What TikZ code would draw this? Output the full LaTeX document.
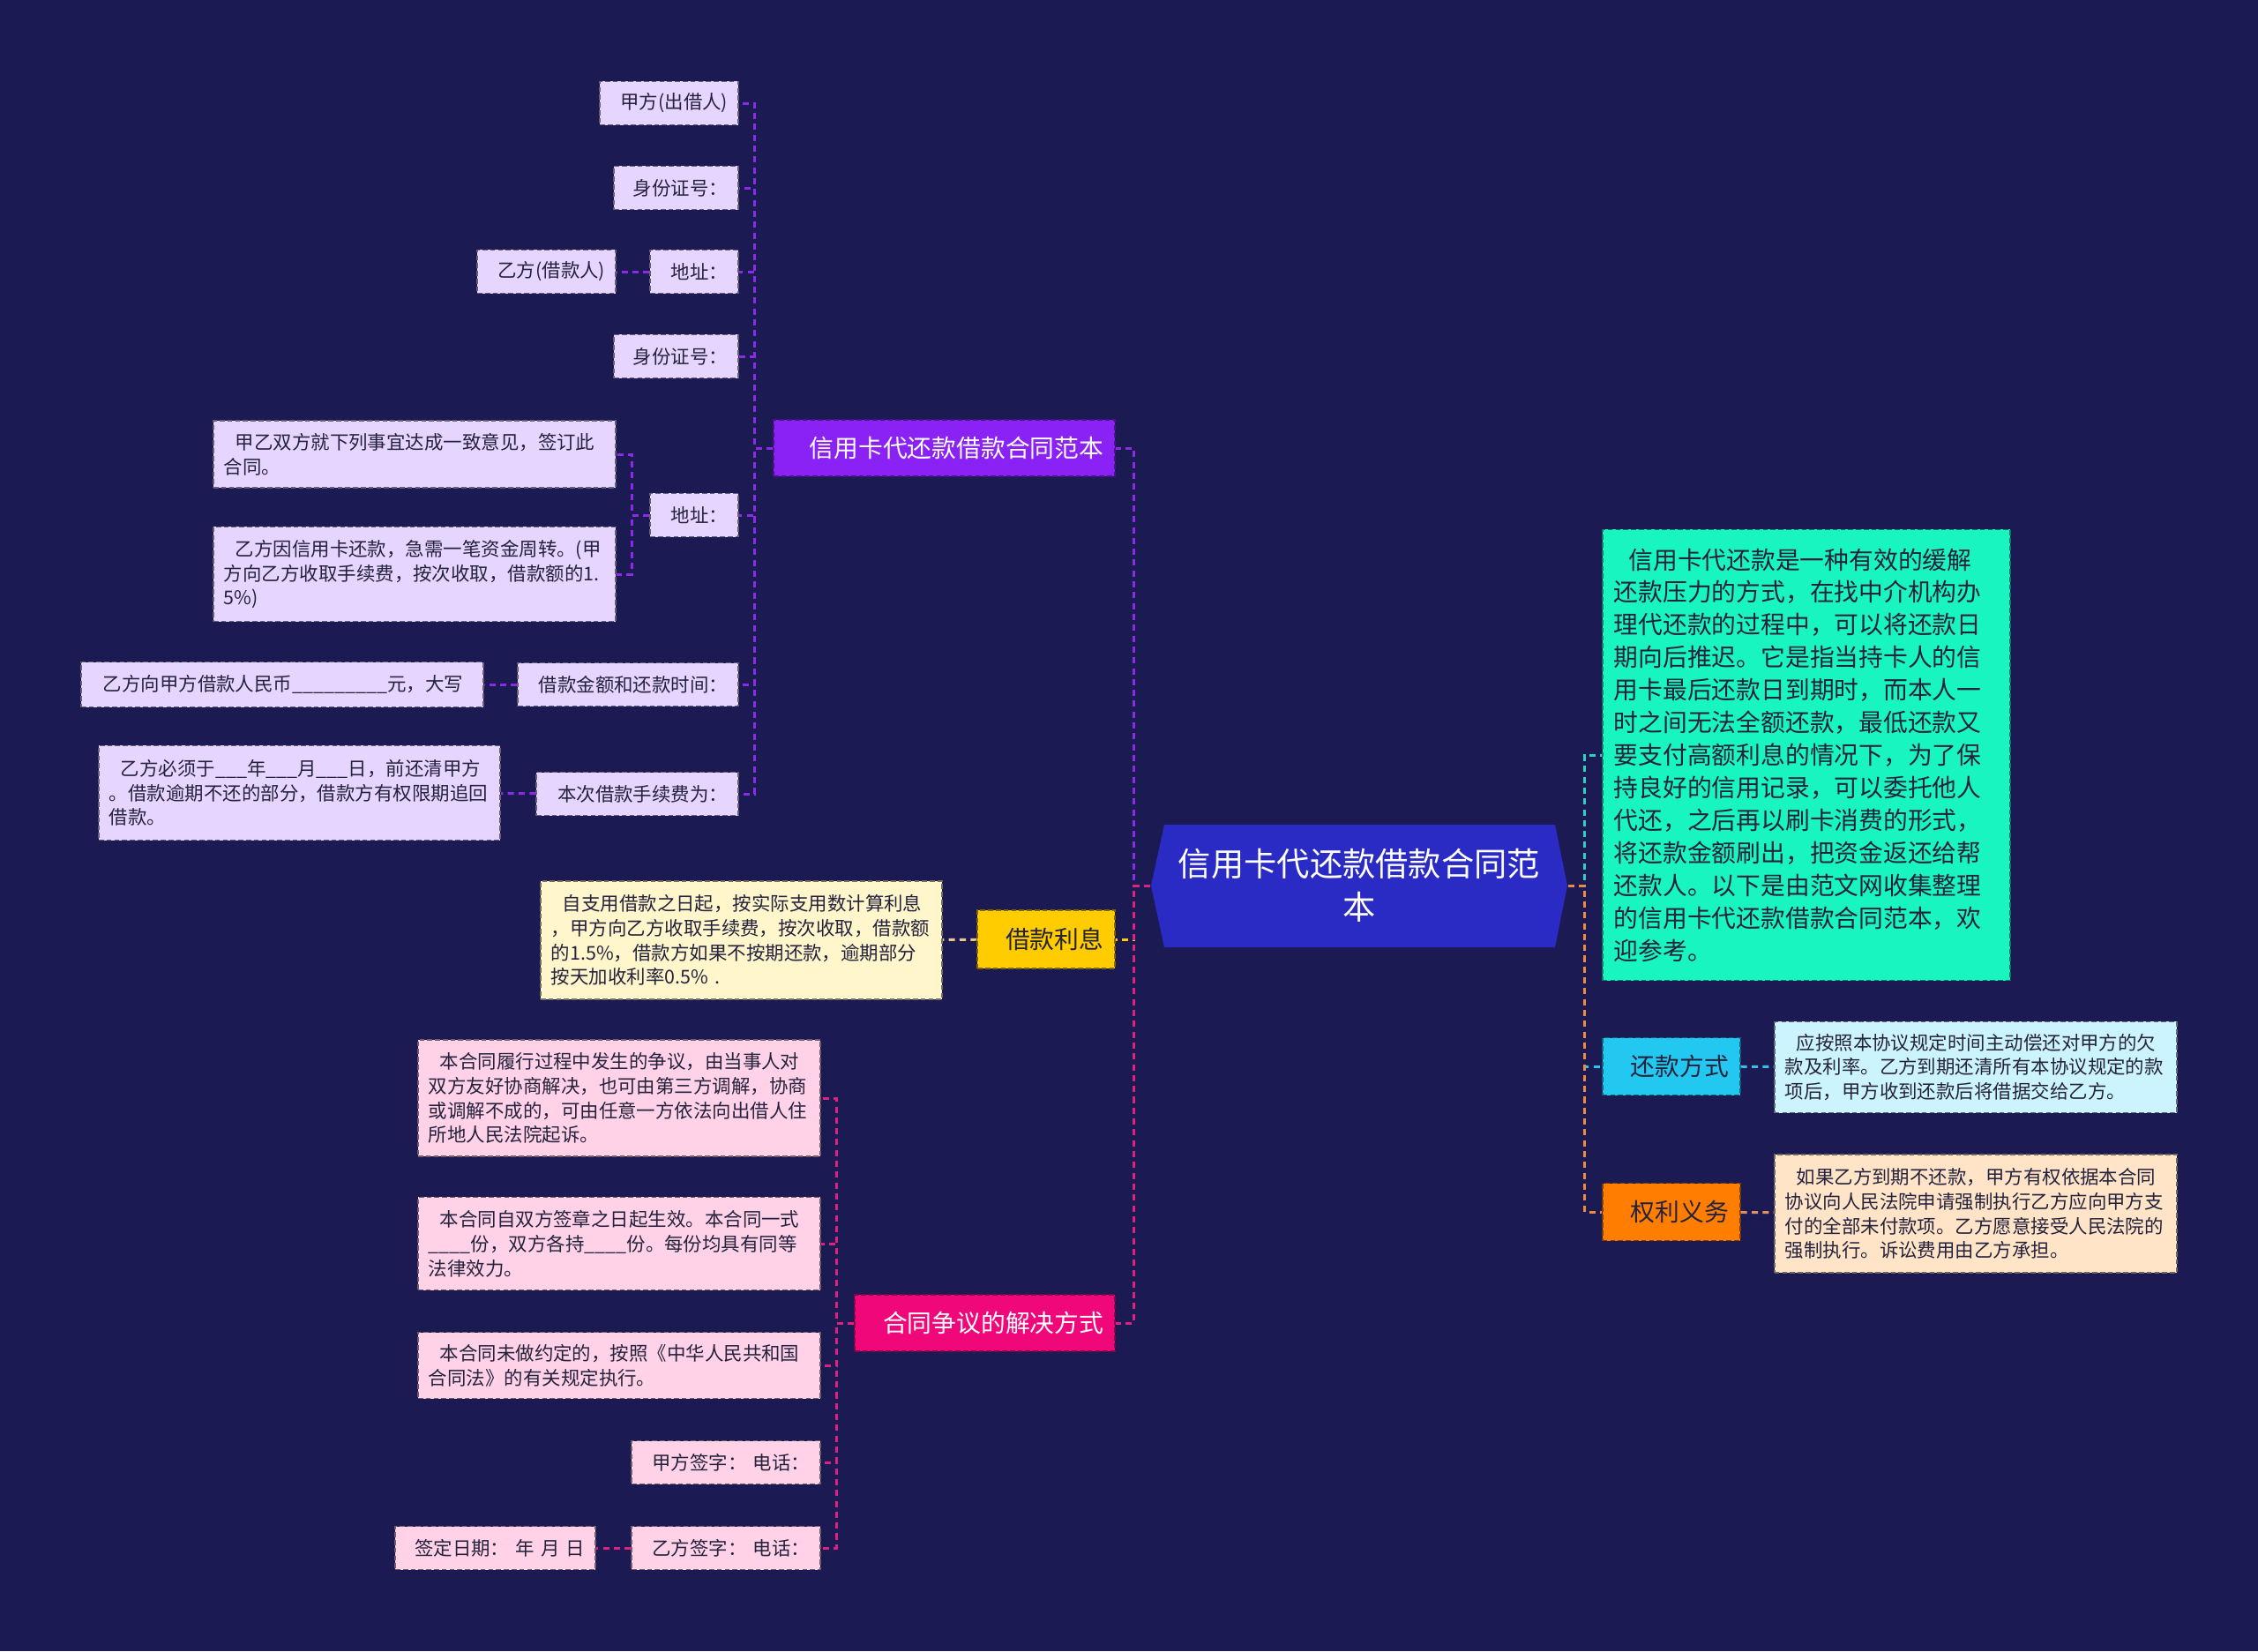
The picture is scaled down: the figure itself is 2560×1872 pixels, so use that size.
\documentclass[tikz,border=0pt]{standalone}
\usepackage{fontspec}
\setmainfont{Noto Sans CJK SC}

\definecolor{bg}{HTML}{1B1A52}
\definecolor{ink}{HTML}{24223C}
\definecolor{rootblue}{HTML}{2A2AC4}
\definecolor{purp}{HTML}{8A22F5}
\definecolor{purpline}{HTML}{8B2BE8}
\definecolor{lav}{HTML}{E6D5FF}
\definecolor{gold}{HTML}{FFCC00}
\definecolor{goldlight}{HTML}{FFF6CC}
\definecolor{goldline}{HTML}{E8C88A}
\definecolor{hot}{HTML}{F0087A}
\definecolor{hotline}{HTML}{E0207E}
\definecolor{pinklight}{HTML}{FFD2E8}
\definecolor{teal}{HTML}{19F5C1}
\definecolor{tealline}{HTML}{2AD2C2}
\definecolor{sky}{HTML}{22C8F0}
\definecolor{skylight}{HTML}{CCF4FF}
\definecolor{skyline}{HTML}{3CBCEC}
\definecolor{orng}{HTML}{FF7D00}
\definecolor{orngline}{HTML}{F08A3C}
\definecolor{peach}{HTML}{FFE4C8}
\definecolor{peachline}{HTML}{E0925E}

\begin{document}
\begin{tikzpicture}[x=0.01cm,y=-0.01cm,
    box/.style={rectangle,draw,dash pattern=on 1.6pt off 0.9pt,line width=0.45pt,inner xsep=0.12cm,inner ysep=0pt},
    small/.style={box,font=\fontsize{6.1pt}{7.9pt}\selectfont,text=ink},
    mid/.style={box,inner xsep=0.13cm,font=\fontsize{7.9pt}{10.5pt}\selectfont,align=right},
    lavbox/.style={small,fill=lav,draw=lav!45!black,align=right,minimum height=0.49cm,anchor=east},
    lavtext/.style={small,fill=lav,draw=lav!45!black,align=left,text width=4.32cm,anchor=east},
    pinkbox/.style={small,fill=pinklight,draw=pinklight!45!black,align=right,minimum height=0.49cm,anchor=east},
    pinktext/.style={small,fill=pinklight,draw=pinklight!45!black,align=left,text width=4.32cm,anchor=east},
    link/.style={dash pattern=on 2pt off 1.5pt,line width=0.85pt},
    rootnode/.style={minimum width=4.72cm,minimum height=1.39cm,inner sep=0pt,align=center,text=white,font=\fontsize{10.6pt}{13.9pt}\selectfont}]

    \fill[bg] (0,0) rectangle (2560,1872);
    \useasboundingbox (0,0) rectangle (2560,1872);

    % central topic
    \fill[rootblue] (1320,935) -- (1763,935) -- (1777,1004) -- (1763,1074) -- (1320,1074) -- (1305,1004) -- cycle;
    \node[rootnode] (root) at (1541,1004) {信用卡代还款借款合同范\\本};

    % left branches
    \node[mid,fill=purp,draw=purp!55!black,text=white,text width=3.61cm,minimum height=0.64cm,anchor=east] (contract) at (1265,508) {信用卡代还款借款合同范本};
    \node[mid,fill=gold,draw=gold!50!black,text=ink,text width=1.30cm,minimum height=0.66cm,anchor=east] (interest) at (1265,1065) {借款利息};
    \node[mid,fill=hot,draw=hot!55!black,text=white,text width=2.69cm,minimum height=0.64cm,anchor=east] (dispute) at (1265,1500) {合同争议的解决方式};

    % parties
    \node[lavbox,text width=1.33cm] (lender) at (838,117) {甲方(出借人)};
    \node[lavbox,text width=1.17cm] (lenderid) at (838,213) {身份证号：};
    \node[lavbox,text width=0.76cm] (lenderaddr) at (838,308) {地址：};
    \node[lavbox,text width=1.33cm] (borrower) at (699,308) {乙方(借款人)};
    \node[lavbox,text width=1.17cm] (borrowerid) at (838,404) {身份证号：};
    \node[lavbox,text width=0.76cm] (borroweraddr) at (838,584) {地址：};
    \node[lavtext,minimum height=0.76cm] (agree) at (699,515) {\hspace*{0.6em}甲乙双方就下列事宜达成一致意见，签订此\\合同。};
    \node[lavtext,minimum height=1.07cm] (reason) at (699,651) {\hspace*{0.6em}乙方因信用卡还款，急需一笔资金周转。(甲\\方向乙方收取手续费，按次收取，借款额的1.\\5\%)};
    \node[lavbox,text width=2.26cm] (amount) at (838,776) {借款金额和还款时间：};
    \node[lavtext,minimum height=0.51cm] (amounttext) at (549,776) {\hspace*{0.6em}乙方向甲方借款人民币\_\_\_\_\_\_\_\_\_元，大写};
    \node[lavbox,text width=2.05cm] (fee) at (838,900) {本次借款手续费为：};
    \node[lavtext,text width=4.31cm,minimum height=1.07cm] (feetext) at (568,899) {\hspace*{0.6em}乙方必须于\_\_\_年\_\_\_月\_\_\_日，前还清甲方\\。借款逾期不还的部分，借款方有权限期追回\\借款。};

    % interest
    \node[small,fill=goldlight,draw=goldlight!45!black,align=left,text width=4.31cm,minimum height=1.34cm,anchor=east] (interesttext) at (1069,1066) {\hspace*{0.6em}自支用借款之日起，按实际支用数计算利息\\，甲方向乙方收取手续费，按次收取，借款额\\的1.5\%，借款方如果不按期还款，逾期部分\\按天加收利率0.5\% .};

    % disputes
    \node[pinktext,minimum height=1.32cm] (court) at (931,1245) {\hspace*{0.6em}本合同履行过程中发生的争议，由当事人对\\双方友好协商解决，也可由第三方调解，协商\\或调解不成的，可由任意一方依法向出借人住\\所地人民法院起诉。};
    \node[pinktext,minimum height=1.05cm] (effect) at (931,1410) {\hspace*{0.6em}本合同自双方签章之日起生效。本合同一式\\\_\_\_\_份，双方各持\_\_\_\_份。每份均具有同等\\法律效力。};
    \node[pinktext,minimum height=0.75cm] (law) at (931,1548) {\hspace*{0.6em}本合同未做约定的，按照《中华人民共和国\\合同法》的有关规定执行。};
    \node[pinkbox,text width=1.90cm] (signa) at (931,1658) {甲方签字： 电话：};
    \node[pinkbox,text width=1.90cm] (signb) at (931,1755) {乙方签字： 电话：};
    \node[pinkbox,text width=2.03cm] (signdate) at (676,1755) {签定日期： 年 月 日};

    % right branches
    \node[mid,fill=teal,draw=teal!50!black,text=ink,align=left,inner ysep=0pt,text width=4.36cm,minimum height=5.11cm,anchor=west] (intro) at (1816,856) {\hspace*{0.6em}信用卡代还款是一种有效的缓解\\还款压力的方式，在找中介机构办\\理代还款的过程中，可以将还款日\\期向后推迟。它是指当持卡人的信\\用卡最后还款日到期时，而本人一\\时之间无法全额还款，最低还款又\\要支付高额利息的情况下，为了保\\持良好的信用记录，可以委托他人\\代还，之后再以刷卡消费的形式，\\将还款金额刷出，把资金返还给帮\\还款人。以下是由范文网收集整理\\的信用卡代还款借款合同范本，欢\\迎参考。};
    \node[mid,fill=sky,draw=sky!50!black,text=ink,text width=1.30cm,minimum height=0.65cm,anchor=west] (repay) at (1816,1209) {还款方式};
    \node[mid,fill=orng,draw=orng!50!black,text=ink,text width=1.30cm,minimum height=0.65cm,anchor=west] (duty) at (1816,1374) {权利义务};
    \node[small,fill=skylight,draw=skylight!45!black,align=left,text width=4.32cm,minimum height=1.03cm,anchor=west] (repaytext) at (2011,1210) {\hspace*{0.6em}应按照本协议规定时间主动偿还对甲方的欠\\款及利率。乙方到期还清所有本协议规定的款\\项后，甲方收到还款后将借据交给乙方。};
    \node[small,fill=peach,draw=peach!45!black,align=left,text width=4.32cm,minimum height=1.34cm,anchor=west] (dutytext) at (2011,1376) {\hspace*{0.6em}如果乙方到期不还款，甲方有权依据本合同\\协议向人民法院申请强制执行乙方应向甲方支\\付的全部未付款项。乙方愿意接受人民法院的\\强制执行。诉讼费用由乙方承担。};

    % connectors
    \draw[link,purpline] (root.west) -- ++(-19,0) |- (contract.east);
    \draw[link,gold] (root.west) -- ++(-19,0) |- (interest.east);
    \draw[link,hotline] (root.west) -- ++(-19,0) |- (dispute.east);
    \draw[link,tealline] (root.east) -- ++(19,0) |- (intro.west);
    \draw[link,sky] (root.east) -- ++(19,0) |- (repay.west);
    \draw[link,orngline] (root.east) -- ++(19,0) |- (duty.west);

    \draw[link,purpline] (contract.west) -- ++(-21,0) |- (lender.east);
    \draw[link,purpline] (contract.west) -- ++(-21,0) |- (lenderid.east);
    \draw[link,purpline] (contract.west) -- ++(-21,0) |- (lenderaddr.east);
    \draw[link,purpline] (contract.west) -- ++(-21,0) |- (borrowerid.east);
    \draw[link,purpline] (contract.west) -- ++(-21,0) |- (borroweraddr.east);
    \draw[link,purpline] (contract.west) -- ++(-21,0) |- (amount.east);
    \draw[link,purpline] (contract.west) -- ++(-21,0) |- (fee.east);
    \draw[link,purpline] (lenderaddr) -- (borrower);
    \draw[link,purpline] (borroweraddr.west) -- ++(-20,0) |- (agree.east);
    \draw[link,purpline] (borroweraddr.west) -- ++(-20,0) |- (reason.east);
    \draw[link,purpline] (amount) -- (amounttext);
    \draw[link,purpline] (fee) -- (feetext);

    \draw[link,goldline] (interest) -- (interesttext);

    \draw[link,hotline] (dispute.west) -- ++(-20,0) |- (court.east);
    \draw[link,hotline] (dispute.west) -- ++(-20,0) |- (effect.east);
    \draw[link,hotline] (dispute.west) -- ++(-20,0) |- (law.east);
    \draw[link,hotline] (dispute.west) -- ++(-20,0) |- (signa.east);
    \draw[link,hotline] (dispute.west) -- ++(-20,0) |- (signb.east);
    \draw[link,hotline] (signb) -- (signdate);

    \draw[link,skyline] (repay) -- (repaytext);
    \draw[link,peachline] (duty) -- (dutytext);
\end{tikzpicture}
\end{document}
